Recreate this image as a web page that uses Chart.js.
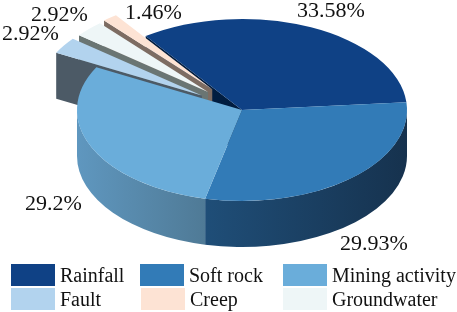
<!DOCTYPE html>
<html>
<head>
<meta charset="utf-8">
<style>
    html, body { margin: 0; padding: 0; background: #fff; }
    canvas { display: block; }
</style>
<script src="https://cdn.jsdelivr.net/npm/chart.js@4"></script>
</head>
<body>
<canvas id="chart1" width="457" height="312"></canvas>
<script>
const categories = ["Rainfall", "Soft rock", "Mining activity", "Fault", "Groundwater", "Creep"]
const shares = [33.58, 29.93, 29.2, 2.92, 2.92, 1.46]

const topColors = ["#0f4185", "#327bb7", "#6aadda", "#b2d3ee", "#eef6f7", "#fde3d4"]
const faceColors = ["#011d40", null, null, "#4c5a66", "#6a7573", "#7d6c62"]
const rimColors = [null, ["#1f4e78", "#16324e"], ["#5f97bf", "#4f7a96"], null, null, null]

// how far each slice is pulled out of the pie, before squashing
const explode = [0, 0, 0, 48, 47, 48]
// back to front, so nearer slices cover the cut faces behind them
const paintOrder = [0, 5, 4, 3, 1, 2]

const squash = 0.5515
const depth = 46

const labelSpots = [[297, 17], [340, 250], [25, 210], [2, 40], [31, 21], [125, 19]]
const legendSpots = [[11, 264], [140, 264], [283, 264], [11, 288], [283, 288], [141, 288]]

const pie3d = {
    id: "pie3d",
    afterDatasetsUpdate(chart) {
        chart.getDatasetMeta(0).data.forEach((arc, i) => {
            const mid = (arc.startAngle + arc.endAngle) / 2
            arc.x += Math.cos(mid) * explode[i]
            arc.y += Math.sin(mid) * explode[i]
        })
    },
    beforeDatasetsDraw(chart) {
        const ctx = chart.ctx
        const arcs = chart.getDatasetMeta(0).data
        const cy = (chart.chartArea.top + chart.chartArea.bottom) / 2
        const sy = y => cy + (y - cy) * squash

        for (const i of paintOrder) {
            const arc = arcs[i]
            const ax = arc.x, ay = sy(arc.y), r = arc.outerRadius

            if (faceColors[i]) {
                const ex = ax + Math.cos(arc.startAngle) * r
                const ey = ay + Math.sin(arc.startAngle) * r * squash
                ctx.beginPath()
                ctx.moveTo(ax, ay)
                ctx.lineTo(ex, ey)
                ctx.lineTo(ex, ey + depth)
                ctx.lineTo(ax, ay + depth)
                ctx.closePath()
                ctx.fillStyle = faceColors[i]
                ctx.fill()
            }

            if (rimColors[i]) {
                const a0 = Math.max(arc.startAngle, 0)
                const a1 = Math.min(arc.endAngle, Math.PI)
                const x0 = ax + Math.cos(a1) * r, x1 = ax + Math.cos(a0) * r
                const grad = ctx.createLinearGradient(x0, 0, x1, 0)
                // the left end of the wall is the first colour for both slices
                grad.addColorStop(0, rimColors[i][0])
                grad.addColorStop(1, rimColors[i][1])
                ctx.beginPath()
                ctx.ellipse(ax, ay, r, r * squash, 0, a0, a1)
                ctx.ellipse(ax, ay + depth, r, r * squash, 0, a1, a0, true)
                ctx.closePath()
                ctx.fillStyle = grad
                ctx.fill()
            }

            ctx.save()
            ctx.translate(0, cy)
            ctx.scale(1, squash)
            ctx.translate(0, -cy)
            arc.draw(ctx)
            ctx.restore()
        }
        return false
    },
    afterDraw(chart) {
        const ctx = chart.ctx
        ctx.save()
        ctx.fillStyle = "#111"
        ctx.textBaseline = "alphabetic"
        ctx.textAlign = "left"

        ctx.font = '22px "Liberation Serif"'
        shares.forEach((v, i) => {
            ctx.fillText(v + "%", labelSpots[i][0], labelSpots[i][1])
        })

        ctx.font = '20px "Liberation Serif"'
        categories.forEach((name, i) => {
            const [x, y] = legendSpots[i]
            ctx.fillStyle = topColors[i]
            ctx.fillRect(x, y, 44, 22)
            ctx.fillStyle = "#111"
            ctx.fillText(name, x + 49, y + 18)
        })
        ctx.restore()
    }
}

new Chart(document.getElementById("chart1"), {
    type: "pie",
    data: {
        labels: categories,
        datasets: [{
            data: shares,
            backgroundColor: topColors,
            borderWidth: 0
        }]
    },
    options: {
        responsive: false,
        animation: false,
        rotation: -35.7,
        radius: 165,
        events: [],
        layout: { padding: { left: 27, bottom: 92 } },
        plugins: {
            legend: { display: false },
            tooltip: { enabled: false }
        }
    },
    plugins: [pie3d]
})
</script>
</body>
</html>
